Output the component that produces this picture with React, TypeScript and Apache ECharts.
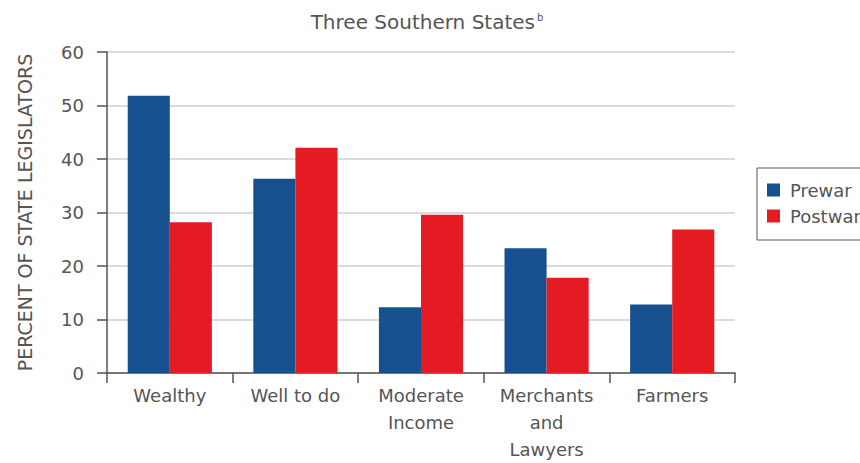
import React, { useEffect, useRef } from "react";
import * as echarts from "echarts";

const categories = ["Wealthy", "Well to do", "Moderate\nIncome", "Merchants\nand\nLawyers", "Farmers"];
const prewar = [51.8, 36.3, 12.3, 23.3, 12.8];
const postwar = [28.2, 42.1, 29.6, 17.8, 26.8];
const yTicks = { min: 0, max: 60, interval: 10 };

const FONT = "'DejaVu Sans', sans-serif";
const TEXT = "#555555";
const BLUE = "#17508f";
const RED = "#e51b24";

export default function App() {
  const ref = useRef<HTMLDivElement>(null);
  useEffect(() => {
    const chart = echarts.init(ref.current!, undefined, { renderer: "svg" });
    chart.setOption({
      animation: false,
      backgroundColor: "#ffffff",
      textStyle: { fontFamily: FONT },
      title: {
        text: "Three Southern States{sup|b}",
        left: 422,
        textAlign: "center",
        top: 7,
        textStyle: {
          fontFamily: FONT,
          fontSize: 20,
          fontWeight: "normal",
          color: TEXT,
          rich: {
            sup: { fontSize: 10, verticalAlign: "top", color: TEXT, fontFamily: FONT, padding: [0, 0, 8, 2] },
          },
        },
      },
      legend: {
        orient: "vertical",
        left: 757,
        top: 168,
        padding: [13, 12, 15, 10],
        itemGap: 8,
        itemWidth: 13,
        itemHeight: 13,
        borderColor: "#555",
        borderWidth: 1,
        icon: "rect",
        textStyle: { fontFamily: FONT, fontSize: 18, lineHeight: 17, color: TEXT, padding: [0, 0, 0, 5] },
        data: ["Prewar", "Postwar"],
      },
      grid: { left: 107, right: 125, top: 52, bottom: 87 },
      xAxis: {
        type: "category",
        data: categories,
        axisLine: { lineStyle: { color: "#555", width: 1.5 } },
        axisTick: { show: true, length: 10, lineStyle: { color: "#555", width: 1.5 } },
        axisLabel: {
          fontFamily: FONT,
          fontSize: 18,
          color: TEXT,
          margin: 9,
          lineHeight: 27,
          interval: 0,
        },
      },
      yAxis: {
        type: "value",
        min: yTicks.min,
        max: yTicks.max,
        interval: yTicks.interval,
        name: "PERCENT OF STATE LEGISLATORS",
        nameLocation: "middle",
        nameGap: 73,
        nameTextStyle: { fontFamily: FONT, fontSize: 19, color: TEXT },
        axisLine: { show: true, lineStyle: { color: "#555", width: 1.5 } },
        axisTick: { show: true, length: 10, lineStyle: { color: "#555", width: 1.5 } },
        axisLabel: { fontFamily: FONT, fontSize: 18, color: TEXT, margin: 23 },
        splitLine: { lineStyle: { color: "#cfcfcf", width: 1.5 } },
      },
      series: [
        {
          name: "Prewar",
          type: "bar",
          data: prewar,
          itemStyle: { color: BLUE },
          barGap: "0%",
          barCategoryGap: "33%",
        },
        {
          name: "Postwar",
          type: "bar",
          data: postwar,
          itemStyle: { color: RED },
          barGap: "0%",
          barCategoryGap: "33%",
        },
      ],
    });
    return () => chart.dispose();
  }, []);
  return <div ref={ref} style={{ width: 860, height: 463, position: "absolute", left: 0, top: 0 }} />;
}
